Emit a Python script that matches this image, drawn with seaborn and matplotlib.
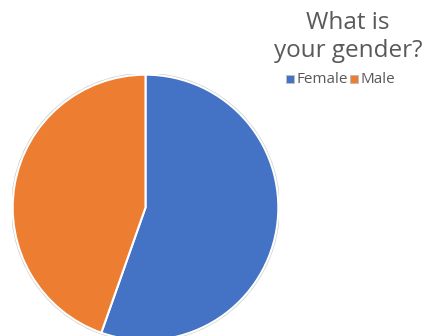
import matplotlib
matplotlib.use("Agg")
import matplotlib.pyplot as plt
import seaborn as sns
from matplotlib.patches import Circle, Rectangle

categories = ["Female", "Male"]
shares = [55.4, 44.6]
colors = ["#4472C4", "#ED7D31"]
title = "What is\nyour gender?"

sns.set_theme(style="white")
plt.rcParams["font.family"] = ["Open Sans", "DejaVu Sans"]

W, H = 426, 336
fig = plt.figure(figsize=(W / 100, H / 100), dpi=100)
fig.patch.set_facecolor("white")

# pie axes placed in pixel coordinates
px_left, px_top, px_size = 12, 74, 267
ax = fig.add_axes([px_left / W, (H - px_top - px_size) / H, px_size / W, px_size / H])
ax.set_aspect("equal")
ax.axis("off")

# faint grey rim behind the pie
ax.add_patch(Circle((0, 0), 1.0, facecolor="none", edgecolor="#c8c8c8", linewidth=1.4, zorder=0))
ax.pie(shares, colors=colors, startangle=90, counterclock=False,
       wedgeprops=dict(edgecolor="white", linewidth=1.5), radius=0.995)
ax.set_xlim(-1.0, 1.0)
ax.set_ylim(-1.0, 1.0)

# title
fig.text(348 / W, 1 - 37 / H, title, ha="center", va="center", fontsize=17.5,
         color="#595959", linespacing=1.2)

# legend drawn as squares and labels
fax = fig.add_axes([0, 0, 1, 1], facecolor="none")
fax.set_xlim(0, W)
fax.set_ylim(H, 0)
fax.axis("off")
legend_items = [(286, 297), (350, 361)]
for (sx, tx), lab, col in zip(legend_items, categories, colors):
    fax.add_patch(Rectangle((sx, 75), 8, 8, facecolor=col, edgecolor="#bfbfbf", linewidth=0.7))
    fax.text(tx, 79.5, lab, ha="left", va="center", fontsize=11, color="#595959")

fig.savefig("out.png", dpi=100)
